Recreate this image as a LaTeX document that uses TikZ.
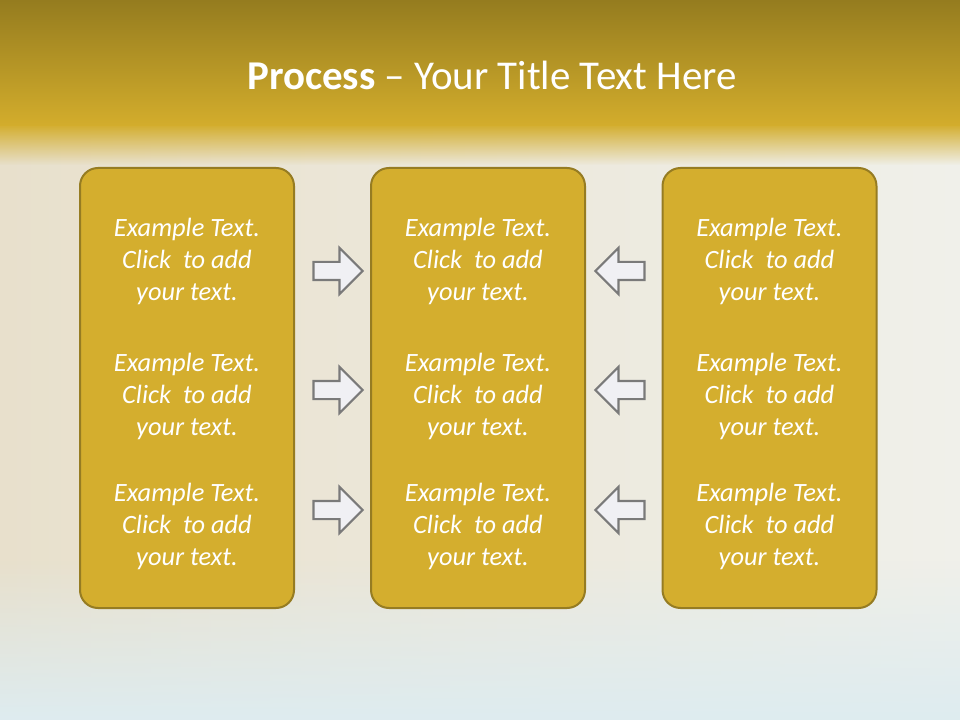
\documentclass[tikz,border=0pt]{standalone}
\usepackage{fontspec}
\setmainfont{Carlito}
\usetikzlibrary{arrows.meta, positioning, shapes.arrows, fadings}

\definecolor{bandtop}{RGB}{149,124,31}
\definecolor{bandgold}{RGB}{211,173,44}
\definecolor{cream}{RGB}{248,230,200}
\definecolor{paleleft}{RGB}{232,224,204}
\definecolor{paleright}{RGB}{240,240,234}
\definecolor{paleblue}{RGB}{222,236,240}
\definecolor{boxfill}{RGB}{212,174,46}
\definecolor{boxline}{RGB}{150,124,34}
\definecolor{arrowfill}{RGB}{240,240,244}
\definecolor{arrowline}{RGB}{122,122,122}

\begin{document}
\begin{tikzpicture}[
    x=0.75pt, y=-0.75pt,
    panel/.style={draw=boxline, line width=1.5pt, fill=boxfill,
                  rounded corners=13.5pt, minimum width=160.5pt,
                  minimum height=330pt},
    para/.style={text=white, align=center,
                 font=\fontsize{19.8}{24}\selectfont\itshape},
    pointer/.style={single arrow, draw=arrowline, fill=arrowfill,
                    line width=1.6pt, inner xsep=0pt, inner ysep=6pt,
                    minimum height=36.75pt, single arrow head extend=10.5pt,
                    single arrow tip angle=90}
  ]
  \useasboundingbox (0,0) rectangle (960,720);

  % Background
  \shade[left color=paleleft, middle color=cream, right color=paleright]
    (0,120) rectangle (960,720);
  \fill[paleblue, path fading=north] (0,560) rectangle (960,720);
  \fill[bandgold, path fading=south] (0,124) rectangle (960,165);
  \shade[top color=bandtop, bottom color=bandgold] (0,0) rectangle (960,126);

  % Title
  \node[text=white, font=\fontsize{30.7}{36}\selectfont] (title) at (492,75)
    {\textbf{Process} – Your Title Text Here};

  % Panels
  \foreach \cx [count=\i] in {187,478,769.5} {
    \node[panel] (box\i) at (\cx,388) {};
    \foreach \ty [count=\j] in {261,396,526}
      \node[para] (txt\i\j) at (\cx,\ty) {Example Text.\\Click~ to add\\your text.};
  }

  % Arrows
  \foreach \ty [count=\j] in {271,390,510} {
    \node[pointer] (ra\j) at (333.5,\ty) {};
    \node[pointer, shape border rotate=180] (la\j) at (624.5,\ty) {};
  }
\end{tikzpicture}
\end{document}
